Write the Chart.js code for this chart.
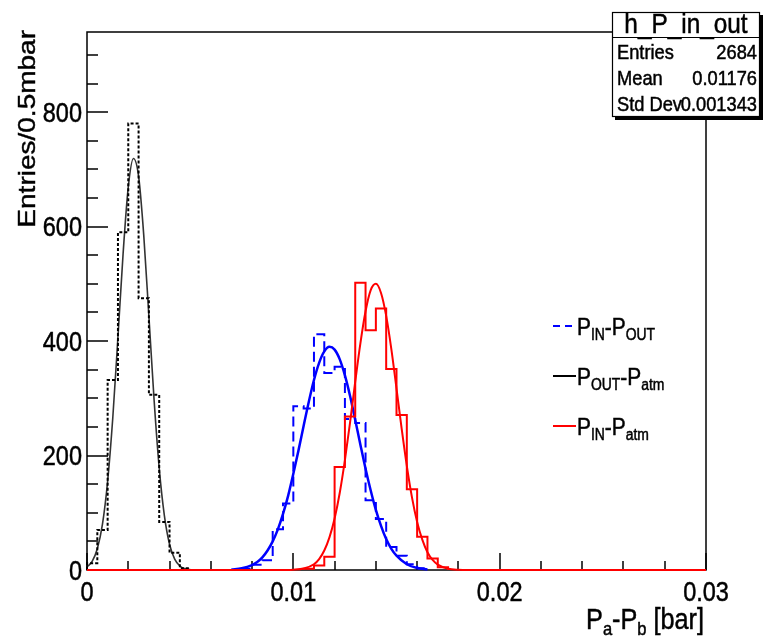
<!DOCTYPE html>
<html>
<head>
<meta charset="utf-8">
<script src="https://cdn.jsdelivr.net/npm/chart.js@4.4.0/dist/chart.umd.min.js"></script>
<style>
  html, body { margin: 0; padding: 0; background: #fff; }
  #wrap { width: 765px; height: 638px; }
</style>
</head>
<body>
<div id="wrap"><canvas id="chart" width="765" height="638"></canvas></div>
<script>
// Histogram binning (0.5 mbar bins)
const binWidth = 0.0005;

// P_OUT - P_atm (black, dotted histogram)
const blackFirstBin = 0;
const blackCounts = [12, 70, 332, 590, 780, 475, 306, 84, 30, 3];

// P_IN - P_OUT (blue, dashed histogram)
const blueFirstBin = 15;
const blueCounts = [2, 9, 17, 71, 116, 286, 282, 412, 344, 355, 264, 257, 122, 89, 40, 25, 10, 3];

// P_IN - P_atm (red histogram)
const redFirstBin = 21;
const redCounts = [2, 8, 23, 180, 268, 502, 419, 457, 351, 271, 141, 58, 20, 5];

// Gaussian fit curves
const blackFitX = [0, 0.00025, 0.0005, 0.00075, 0.001, 0.00125, 0.0015, 0.00175, 0.002, 0.00225, 0.0025,
  0.00275, 0.003, 0.00325, 0.0035, 0.00375, 0.004, 0.00425, 0.0045, 0.00475, 0.005];
const blackFitY = [5.5, 15, 37, 80, 155, 266, 407, 553, 669, 719, 688, 585, 443, 298, 178, 95, 45, 19, 7, 2.4, 0.7];

const blueFitX = [0.007, 0.0075, 0.008, 0.00825, 0.0085, 0.00875, 0.009, 0.00925, 0.0095, 0.00975, 0.01,
  0.01025, 0.0105, 0.01075, 0.011, 0.01125, 0.0115, 0.01175, 0.012, 0.01225, 0.0125, 0.01275, 0.013,
  0.01325, 0.0135, 0.01375, 0.014, 0.01425, 0.0145, 0.01475, 0.015, 0.0155, 0.016, 0.0165];
const blueFitY = [0.9, 3, 8.7, 14, 22, 34, 50, 71, 98, 130, 168, 209, 252, 294, 332, 362, 382, 390, 385,
  368, 340, 304, 262, 219, 177, 139, 105, 77, 54, 37, 25, 10, 3.4, 1];

const redFitX = [0, 0.009, 0.0095, 0.01, 0.0105, 0.011, 0.01125, 0.0115, 0.01175, 0.012, 0.01225, 0.0125,
  0.01275, 0.013, 0.01325, 0.0135, 0.01375, 0.014, 0.01425, 0.0145, 0.01475, 0.015, 0.01525, 0.0155,
  0.01575, 0.016, 0.01625, 0.0165, 0.01675, 0.017, 0.0175, 0.018, 0.0185, 0.03];
const redFitY = [0, 0, 0.1, 0.5, 2.5, 10, 19, 34, 57, 90, 135, 192, 258, 329, 396, 452, 489, 500, 484, 444,
  386, 317, 247, 182, 127, 84, 53, 31, 17.5, 9.3, 2.2, 0.4, 0.07, 0];

// Axes
const xMin = 0, xMax = 0.03;
const yMin = 0, yMax = 940;
const xTickValues = [0, 0.01, 0.02, 0.03];
const xTickLabels = ['0', '0.01', '0.02', '0.03'];
const xMinorStep = 0.002;
const yTickValues = [0, 200, 400, 600, 800];
const yTickLabels = ['0', '200', '400', '600', '800'];
const yMinorStep = 50;
const xTitle = [['P', 0], ['a', 1], ['-P', 0], ['b', 1], [' [bar]', 0]];
const yTitle = 'Entries/0.5mbar';

// Stats box
const statsTitle = 'h_P_in_out';
const statsRows = [['Entries', '2684'], ['Mean', '0.01176'], ['Std Dev', '0.001343']];

// Legend
const legendEntries = [
  { color: '#0000ff', dash: [7, 5], parts: [['P', 0], ['IN', 1], ['-P', 0], ['OUT', 1]] },
  { color: '#000000', dash: [], parts: [['P', 0], ['OUT', 1], ['-P', 0], ['atm', 1]] },
  { color: '#ff0000', dash: [], parts: [['P', 0], ['IN', 1], ['-P', 0], ['atm', 1]] }
];

const FONT = '"Liberation Sans", Arial, Helvetica, sans-serif';
const SQUEEZE = 0.87;
const INK = 0.5; // small stroke to thicken text like the original rendering

function histPoints(firstBin, counts) {
  const pts = [{ x: firstBin * binWidth, y: 0 }];
  counts.forEach((c, i) => pts.push({ x: (firstBin + i) * binWidth, y: c }));
  pts.push({ x: (firstBin + counts.length) * binWidth, y: 0 });
  return pts;
}

function curvePoints(xs, ys) {
  return xs.map((x, i) => ({ x: x, y: ys[i] }));
}

function text(ctx, str, x, y, size, align) {
  ctx.save();
  ctx.translate(x, y);
  ctx.scale(SQUEEZE, 1);
  ctx.font = size + 'px ' + FONT;
  ctx.textAlign = align || 'left';
  ctx.textBaseline = 'alphabetic';
  ctx.fillStyle = '#000';
  ctx.strokeStyle = '#000';
  ctx.lineWidth = INK;
  ctx.fillText(str, 0, 0);
  ctx.strokeText(str, 0, 0);
  ctx.restore();
}

// text with subscripts: parts = [[string, isSub], ...]
function richWidth(ctx, parts, size, subSize) {
  let w = 0;
  parts.forEach(p => {
    ctx.font = (p[1] ? subSize : size) + 'px ' + FONT;
    w += ctx.measureText(p[0]).width * SQUEEZE;
  });
  return w;
}

function richText(ctx, parts, x, y, size, subSize, subDrop) {
  let cx = x;
  parts.forEach(p => {
    const s = p[1] ? subSize : size;
    text(ctx, p[0], cx, y + (p[1] ? subDrop : 0), s, 'left');
    ctx.font = s + 'px ' + FONT;
    cx += ctx.measureText(p[0]).width * SQUEEZE;
  });
}

const frameAndTicks = {
  id: 'frameAndTicks',
  beforeDatasetsDraw(chart) {
    const ctx = chart.ctx;
    const a = chart.chartArea;
    const xs = chart.scales.x, ys = chart.scales.y;
    ctx.save();
    ctx.strokeStyle = '#000';
    ctx.lineWidth = 1.5;
    ctx.strokeRect(a.left, a.top, a.right - a.left, a.bottom - a.top);
    ctx.beginPath();
    // y ticks (pointing into the frame)
    for (let v = yMin; v <= 900 + 1e-9; v += yMinorStep) {
      const py = Math.round(ys.getPixelForValue(v));
      const major = yTickValues.includes(v);
      ctx.moveTo(a.left, py);
      ctx.lineTo(a.left + (major ? 21 : 11), py);
    }
    // x ticks
    for (let i = 0; i <= Math.round((xMax - xMin) / xMinorStep); i++) {
      const v = xMin + i * xMinorStep;
      const px = Math.round(xs.getPixelForValue(v));
      const major = i % 5 === 0;
      ctx.moveTo(px, a.bottom);
      ctx.lineTo(px, a.bottom - (major ? 17 : 9));
    }
    ctx.stroke();
    ctx.restore();
  },
  afterDraw(chart) {
    const ctx = chart.ctx;
    const a = chart.chartArea;
    const xs = chart.scales.x, ys = chart.scales.y;

    // tick labels from the scales' ticks
    ys.ticks.forEach((t, i) => {
      text(ctx, yTickLabels[i], a.left - 5, ys.getPixelForValue(t.value) + 9.5, 27, 'right');
    });
    xs.ticks.forEach((t, i) => {
      text(ctx, xTickLabels[i], xs.getPixelForValue(t.value), a.bottom + 31, 27, 'center');
    });

    // axis titles
    const w = richWidth(ctx, xTitle, 29, 19);
    richText(ctx, xTitle, a.right - 2 - w, 629, 29, 19, 6);

    ctx.save();
    ctx.translate(35, 30);
    ctx.rotate(-Math.PI / 2);
    ctx.scale(1, SQUEEZE);
    ctx.font = '28px ' + FONT;
    ctx.textAlign = 'right';
    ctx.fillStyle = '#000';
    ctx.strokeStyle = '#000';
    ctx.lineWidth = INK;
    ctx.fillText(yTitle, 0, 0);
    ctx.strokeText(yTitle, 0, 0);
    ctx.restore();

    // legend
    legendEntries.forEach((e, i) => {
      const cy = 326 + i * 50;
      ctx.save();
      ctx.strokeStyle = e.color;
      ctx.lineWidth = 2;
      ctx.setLineDash(e.dash);
      ctx.beginPath();
      ctx.moveTo(553, cy);
      ctx.lineTo(576, cy);
      ctx.stroke();
      ctx.restore();
      richText(ctx, e.parts, 577, cy + 9, 24, 16, 5);
    });

    // stats box
    const bx = 612, by = 12, bw = 148, bh = 105;
    ctx.save();
    ctx.fillStyle = '#000';
    ctx.fillRect(bx + 3, by + 3, bw, bh);
    ctx.fillStyle = '#fff';
    ctx.fillRect(bx, by, bw, bh);
    ctx.strokeStyle = '#000';
    ctx.lineWidth = 1.2;
    ctx.strokeRect(bx + 0.5, by + 0.5, bw - 1, bh - 1);
    ctx.beginPath();
    ctx.moveTo(bx, 37.5);
    ctx.lineTo(bx + bw, 37.5);
    ctx.stroke();
    ctx.restore();
    text(ctx, statsTitle, bx + bw / 2, 33, 28, 'center');
    statsRows.forEach((r, i) => {
      const yb = 59 + i * 26;
      text(ctx, r[0], bx + 5, yb, 21, 'left');
      text(ctx, r[1], bx + bw - 3, yb, 21, 'right');
    });
  }
};

const ctx = document.getElementById('chart').getContext('2d');
new Chart(ctx, {
  type: 'line',
  data: {
    datasets: [
      { data: curvePoints(redFitX, redFitY), borderColor: '#ff0000', borderWidth: 2,
        cubicInterpolationMode: 'monotone', pointRadius: 0 },
      { data: histPoints(redFirstBin, redCounts), borderColor: '#ff0000', borderWidth: 2,
        stepped: 'before', pointRadius: 0 },
      { data: curvePoints(blueFitX, blueFitY), borderColor: '#0000ff', borderWidth: 2.5,
        cubicInterpolationMode: 'monotone', pointRadius: 0 },
      { data: histPoints(blueFirstBin, blueCounts), borderColor: '#0000ff', borderWidth: 2,
        borderDash: [10, 5], stepped: 'before', pointRadius: 0 },
      { data: curvePoints(blackFitX, blackFitY), borderColor: 'rgba(0,0,0,0.8)', borderWidth: 1.6,
        cubicInterpolationMode: 'monotone', pointRadius: 0 },
      { data: histPoints(blackFirstBin, blackCounts), borderColor: '#000', borderWidth: 2,
        borderDash: [3, 2], stepped: 'before', pointRadius: 0 }
    ]
  },
  options: {
    responsive: false,
    devicePixelRatio: 1,
    animation: false,
    events: [],
    clip: 3,
    layout: { padding: { top: 32, right: 59, left: 0, bottom: 0 } },
    plugins: { legend: { display: false }, tooltip: { enabled: false } },
    scales: {
      x: {
        type: 'linear', min: xMin, max: xMax,
        afterBuildTicks: s => { s.ticks = xTickValues.map(v => ({ value: v })); },
        afterFit: s => { s.height = 68; },
        ticks: { display: false },
        grid: { display: false },
        border: { display: false }
      },
      y: {
        type: 'linear', min: yMin, max: yMax,
        afterBuildTicks: s => { s.ticks = yTickValues.map(v => ({ value: v })); },
        afterFit: s => { s.width = 87; },
        ticks: { display: false },
        grid: { display: false },
        border: { display: false }
      }
    }
  },
  plugins: [frameAndTicks]
});
</script>
</body>
</html>
